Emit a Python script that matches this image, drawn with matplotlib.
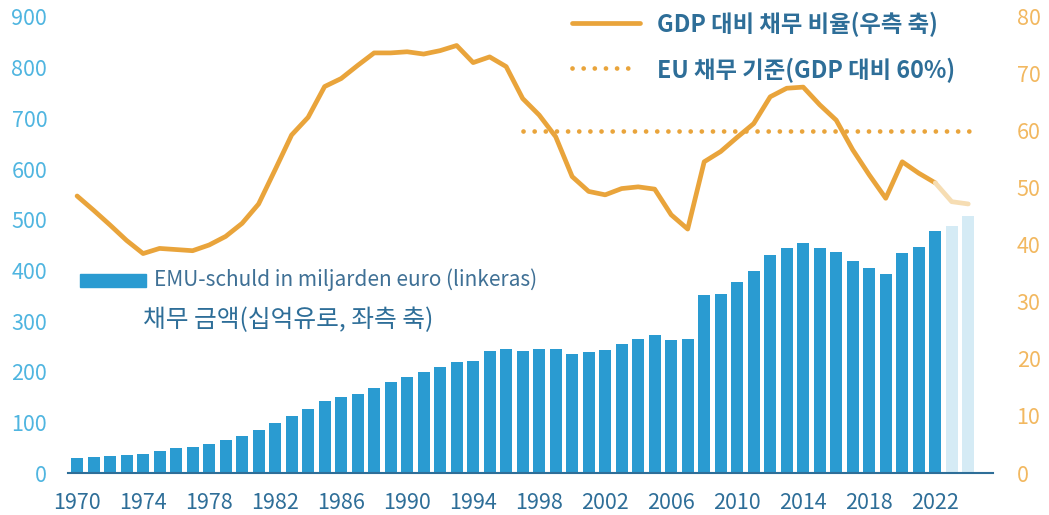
import matplotlib
matplotlib.use("Agg")
import matplotlib.pyplot as plt
from matplotlib.lines import Line2D
from matplotlib.patches import Rectangle

plt.rcParams['font.family'] = ['Noto Sans CJK KR', 'DejaVu Sans']

years = list(range(1970, 2025))
debt_bn = [29, 31, 34, 36, 38, 44, 49, 51, 58, 66,
           74, 84, 98, 113, 126, 142, 150, 156, 167, 179,
           190, 199, 210, 219, 222, 240, 244, 241, 245, 244,
           235, 238, 243, 254, 264, 272, 262, 264, 352, 353,
           377, 399, 430, 444, 454, 444, 436, 418, 404, 393,
           434, 447, 478, 487, 507]
forecast_years = [2023, 2024]
debt_gdp = [48.6, 46.1, 43.5, 40.8, 38.5, 39.4, 39.2, 39.0, 40.0, 41.5,
            43.8, 47.2, 53.2, 59.3, 62.4, 67.8, 69.2, 71.5, 73.7, 73.7,
            73.9, 73.5, 74.1, 75.0, 72.0, 73.0, 71.3, 65.7, 62.8, 59.0,
            52.0, 49.4, 48.8, 49.9, 50.2, 49.8, 45.3, 42.8, 54.6, 56.4,
            58.9, 61.3, 66.0, 67.5, 67.7, 64.6, 61.9, 56.7, 52.3, 48.2,
            54.6, 52.6, 50.9, 47.6, 47.2]
eu_norm = 60
eu_norm_span = [1997, 2024.5]
xticks = list(range(1970, 2023, 4))
left_ticks = list(range(0, 901, 100))
right_ticks = list(range(0, 81, 10))

legend_line = "GDP 대비 채무 비율(우측 축)"
legend_dot = "EU 채무 기준(GDP 대비 60%)"
legend_bar = "EMU-schuld in miljarden euro (linkeras)"
legend_bar_ko = "채무 금액(십억유로, 좌측 축)"

BLUE = "#2A9BD1"
LIGHT_BLUE = "#D5EBF5"
ORANGE = "#E9A43B"
LIGHT_ORANGE = "#F6DDB3"
LEFT_TICK = "#4FB5E0"
RIGHT_TICK = "#F2B860"
DARK = "#2E6E98"

W, H = 1049, 515
fig = plt.figure(figsize=(W / 100, H / 100), dpi=100)
ax = fig.add_axes([68 / W, 1 - 473 / H, (993 - 68) / W, (473 - 17) / H])
ax2 = ax.twinx()

colors = [LIGHT_BLUE if y in forecast_years else BLUE for y in years]
ax.bar(years, debt_bn, width=0.72, color=colors, zorder=2)
ax.set_ylim(0, 900)
ax.set_xlim(1969.45, 2025.5)
ax.set_yticks(left_ticks)
ax.set_xticks(xticks)
ax.tick_params(axis='y', length=0, pad=15, labelsize=15.5, labelcolor=LEFT_TICK)
ax.tick_params(axis='x', length=0, pad=14, labelsize=15.5, labelcolor=DARK)
for s in ['top', 'right', 'left']:
    ax.spines[s].set_visible(False)
ax.spines['bottom'].set_color(DARK)
ax.spines['bottom'].set_linewidth(1.5)

n_solid = years.index(2022) + 1
ax2.plot(years[:n_solid], debt_gdp[:n_solid], color=ORANGE, lw=3.4,
         solid_joinstyle='round', solid_capstyle='round', zorder=3)
ax2.plot(years[n_solid - 1:], debt_gdp[n_solid - 1:], color=LIGHT_ORANGE, lw=3.4,
         solid_joinstyle='round', solid_capstyle='round', zorder=3)
ax2.plot(eu_norm_span, [eu_norm, eu_norm], color=ORANGE, lw=3.4,
         linestyle=(0, (0.01, 2.35)), dash_capstyle='round', zorder=3)
ax2.set_ylim(0, 80)
ax2.set_yticks(right_ticks)
ax2.tick_params(axis='y', length=0, pad=17, labelsize=15.5, labelcolor=RIGHT_TICK)
for s in ax2.spines.values():
    s.set_visible(False)

def fx(px):
    return px / W

def fy(py):
    return 1 - py / H

# top legend
fig.add_artist(Line2D([fx(572), fx(640)], [fy(23), fy(23)], color=ORANGE, lw=3.4,
                      solid_capstyle='round', transform=fig.transFigure))
fig.text(fx(657), fy(24), legend_line, color=DARK, fontsize=16.8, fontweight='bold',
         va='center', ha='left')
fig.add_artist(Line2D([fx(572), fx(633)], [fy(68), fy(68)], color=ORANGE, lw=3.4,
                      linestyle=(0, (0.01, 2.35)), dash_capstyle='round',
                      transform=fig.transFigure))
fig.text(fx(657), fy(70), legend_dot, color=DARK, fontsize=16.8, fontweight='bold',
         va='center', ha='left')

# bar legend
fig.add_artist(Rectangle((fx(80), fy(287)), fx(146) - fx(80), fy(274) - fy(287),
                         color=BLUE, transform=fig.transFigure))
fig.text(fx(154), fy(280), legend_bar, color="#3F7095", fontsize=15,
         va='center', ha='left')
fig.text(fx(143), fy(320), legend_bar_ko, color=DARK, fontsize=17.8,
         va='center', ha='left')

fig.savefig("out.png", dpi=100)
